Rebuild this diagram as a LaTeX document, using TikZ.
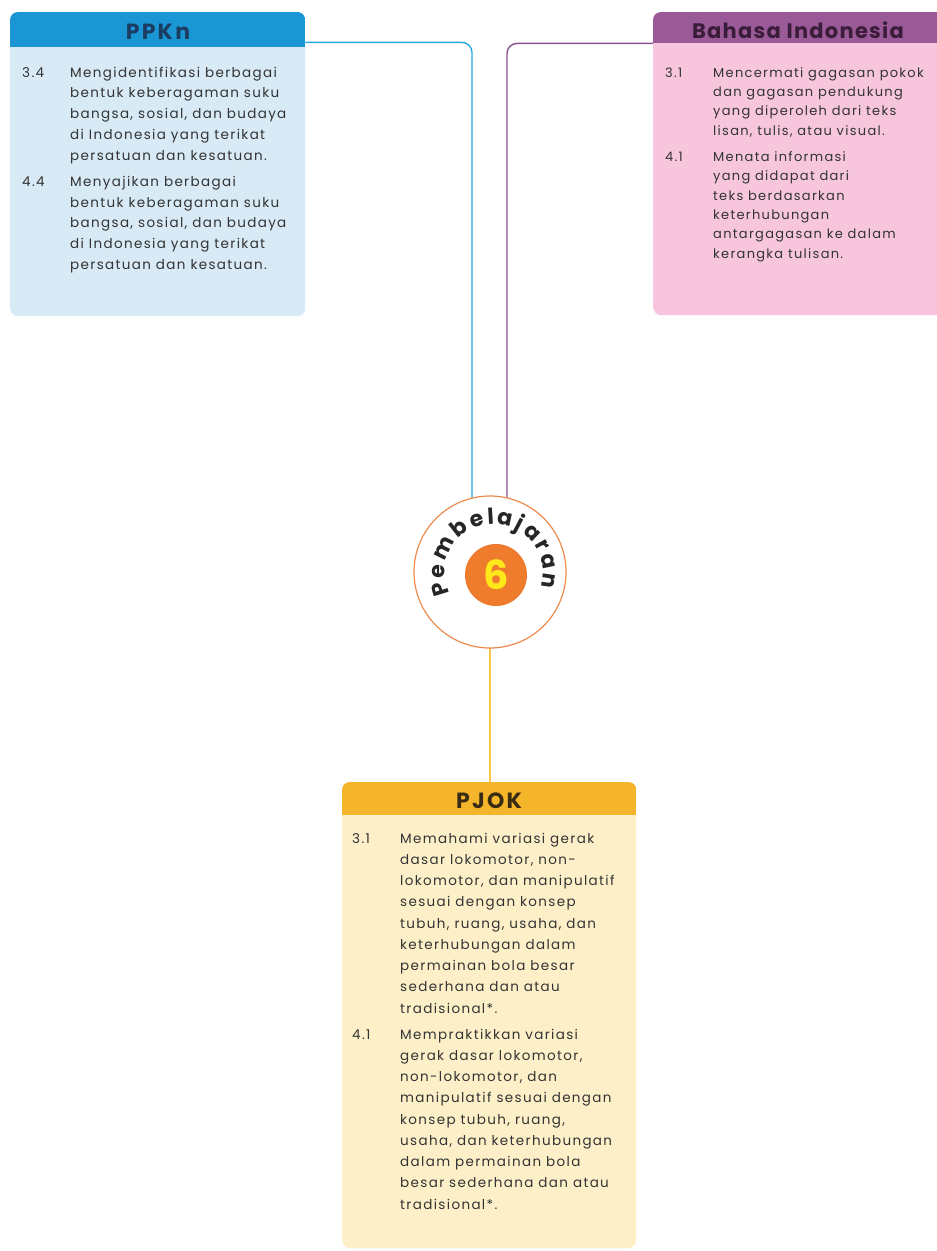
\documentclass[tikz,border=0pt]{standalone}
\usepackage{fontspec}
\setmainfont{Poppins}
\newfontfamily\kdfont{Poppins}[LetterSpace=10]
\newfontfamily\headfont{Poppins}[LetterSpace=10]
\newfontfamily\bhsfont{Poppins}[LetterSpace=6]
\usetikzlibrary{calc,backgrounds,decorations.text}

\definecolor{ppkHead}{HTML}{1996D3}
\definecolor{ppkBody}{HTML}{D7EAF6}
\definecolor{ppkTitle}{HTML}{1C3D63}
\definecolor{bhsHead}{HTML}{9A5A98}
\definecolor{bhsBody}{HTML}{F7C6DD}
\definecolor{bhsTitle}{HTML}{3B1C3B}
\definecolor{pjkHead}{HTML}{F5B52B}
\definecolor{pjkBody}{HTML}{FDF0C9}
\definecolor{pjkTitle}{HTML}{3A2C12}
\definecolor{lineBlue}{HTML}{29A9DC}
\definecolor{linePurple}{HTML}{8E4F8C}
\definecolor{lineYellow}{HTML}{F7C54A}
\definecolor{hubRing}{HTML}{EF8A4F}
\definecolor{hubCore}{HTML}{EF7B2C}
\definecolor{hubSix}{HTML}{FFE81A}
\definecolor{bodyText}{HTML}{333333}

% competence number, set in a fixed-width slot before its wording
\newcommand{\kdNum}[1]{\makebox[48pt][l]{#1}}

\begin{document}
\begin{tikzpicture}[x=1pt,y=1pt,
  subjectbox/.style={draw=none,rounded corners=8pt,inner sep=0pt,anchor=north west},
  headbar/.style={inner sep=0pt,anchor=north west},
  headtitle/.style={inner sep=0pt,font=\fontsize{22pt}{24pt}\headfont\bfseries},
  kdtext/.style={inner sep=0pt,anchor=base west,text=bodyText},
  link/.style={line width=1.4pt,rounded corners=10pt}]

\useasboundingbox (0,0) rectangle (937,-1251);
\clip (0,0) rectangle (937,-1251);

% ---------- PPKn ----------
\node[subjectbox,fill=ppkBody,minimum width=295pt,minimum height=304pt] (ppkn) at (10,-12) {};
\begin{scope}
  \clip[rounded corners=8pt] (ppkn.north west) rectangle (ppkn.south east);
  \node[headbar,fill=ppkHead,minimum width=295pt,minimum height=35pt] (ppkHead) at (ppkn.north west) {};
\end{scope}
\node[headtitle,text=ppkTitle] (ppkTitle) at (158,-32) {PPKn};
\node[kdtext,font=\fontsize{13.5pt}{20.8pt}\kdfont] (ppkKd) at (22,-77) {%
  \begin{tabular}[t]{@{}l@{}l@{}}
  \kdNum{3.4} & Mengidentifikasi berbagai\\
   & bentuk keberagaman suku\\
   & bangsa, sosial, dan budaya\\
   & di Indonesia yang terikat\\
   & persatuan dan kesatuan.\\[5.2pt]
  \kdNum{4.4} & Menyajikan berbagai\\
   & bentuk keberagaman suku\\
   & bangsa, sosial, dan budaya\\
   & di Indonesia yang terikat\\
   & persatuan dan kesatuan.
  \end{tabular}};

% ---------- Bahasa Indonesia ----------
\node[subjectbox,fill=bhsBody,minimum width=292pt,minimum height=303pt] (bhs) at (653,-12) {};
\begin{scope}
  \clip[rounded corners=8pt] (bhs.north west) rectangle (bhs.south east);
  \node[headbar,fill=bhsHead,minimum width=292pt,minimum height=31pt] (bhsHead) at (bhs.north west) {};
\end{scope}
\node[inner sep=0pt,text=bhsTitle,font=\fontsize{21pt}{23pt}\bhsfont\bfseries] (bhsTitle) at (798,-30) {Bahasa Indonesia};
\node[kdtext,font=\fontsize{13pt}{19.4pt}\kdfont] (bhsKd) at (665,-77) {%
  \begin{tabular}[t]{@{}l@{}l@{}}
  \kdNum{3.1} & Mencermati gagasan pokok\\
   & dan gagasan pendukung\\
   & yang diperoleh dari teks\\
   & lisan, tulis, atau visual.\\[6.6pt]
  \kdNum{4.1} & Menata informasi\\
   & yang didapat dari\\
   & teks berdasarkan\\
   & keterhubungan\\
   & antargagasan ke dalam\\
   & kerangka tulisan.
  \end{tabular}};

% ---------- PJOK ----------
\node[subjectbox,fill=pjkBody,minimum width=294pt,minimum height=466pt] (pjok) at (342,-782) {};
\begin{scope}
  \clip[rounded corners=8pt] (pjok.north west) rectangle (pjok.south east);
  \node[headbar,fill=pjkHead,minimum width=294pt,minimum height=33pt] (pjokHead) at (pjok.north west) {};
\end{scope}
\node[headtitle,text=pjkTitle] (pjokTitle) at (489,-801) {PJOK};
\node[kdtext,font=\fontsize{13.5pt}{21.25pt}\kdfont] (pjokKd) at (352,-843) {%
  \begin{tabular}[t]{@{}l@{}l@{}}
  \kdNum{3.1} & Memahami variasi gerak\\
   & dasar lokomotor, non-\\
   & lokomotor, dan manipulatif\\
   & sesuai dengan konsep\\
   & tubuh, ruang, usaha, dan\\
   & keterhubungan dalam\\
   & permainan bola besar\\
   & sederhana dan atau\\
   & tradisional*.\\[4.75pt]
  \kdNum{4.1} & Mempraktikkan variasi\\
   & gerak dasar lokomotor,\\
   & non-lokomotor, dan\\
   & manipulatif sesuai dengan\\
   & konsep tubuh, ruang,\\
   & usaha, dan keterhubungan\\
   & dalam permainan bola\\
   & besar sederhana dan atau\\
   & tradisional*.
  \end{tabular}};

% ---------- hub ----------
\node[circle,draw=hubRing,fill=white,line width=1.2pt,minimum size=152pt,inner sep=0pt] (hub) at (490,-572) {};
\node[circle,fill=hubCore,minimum size=62pt,inner sep=0pt,text=hubSix,
      font=\fontsize{40pt}{40pt}\selectfont\bfseries] (core) at (496,-575) {6};
\path[decorate,decoration={text along path,text align=fit to path,
      text={|\fontsize{22pt}{22pt}\selectfont\bfseries\color{black!85}|Pembelajaran}}]
  (494,-573) ++(205:49) arc[start angle=205,end angle=-17,radius=49];

% ---------- connectors ----------
\begin{scope}[on background layer]
  \draw[link,lineBlue] ($(ppkHead.south east)+(0,5)$) -| ($(hub.center)+(-18,0)$);
  \draw[link,linePurple] (bhsHead.south west) -| ($(hub.center)+(17,0)$);
  \draw[link,lineYellow] (hub.center) -- (hub.center |- pjokHead.north);
\end{scope}
\end{tikzpicture}
\end{document}
